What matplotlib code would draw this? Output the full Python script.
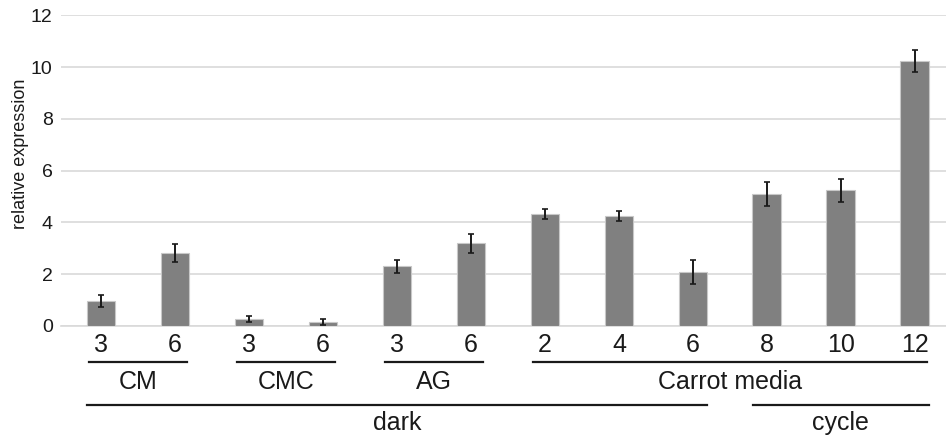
import numpy as np
import matplotlib.pyplot as plt
from matplotlib.transforms import blended_transform_factory

plt.rcParams['font.family'] = ['Liberation Sans', 'DejaVu Sans']

# bar labels (time points) and values
tick_labels = ['3', '6', '3', '6', '3', '6', '2', '4', '6', '8', '10', '12']
values = [0.97, 2.82, 0.27, 0.15, 2.30, 3.20, 4.32, 4.25, 2.10, 5.09, 5.24, 10.24]
errors = [0.23, 0.35, 0.12, 0.12, 0.25, 0.37, 0.20, 0.21, 0.46, 0.47, 0.46, 0.42]

# group brackets: (label, first bar, last bar)
groups_row1 = [('CM', 0, 1), ('CMC', 2, 3), ('AG', 4, 5), ('Carrot media', 6, 11)]
groups_row2 = [('dark', 0, 8), ('cycle', 9, 11)]

W, H = 946, 436
fig = plt.figure(figsize=(W / 100, H / 100), dpi=100)
ax = fig.add_axes([61 / W, 1 - 326 / H, (946 - 61) / W, (326 - 15.5) / H])

x = np.arange(len(values))
ax.bar(x, values, width=0.39, color='#808080', edgecolor='#c8c8c8', linewidth=0.8, zorder=3)
ax.errorbar(x, values, yerr=errors, fmt='none', ecolor='#1a1a1a', elinewidth=1.4,
            capsize=2, capthick=1.2, zorder=4)

ax.set_ylim(0, 12)
ax.set_xlim(-0.54, 11.42)
ax.set_yticks(range(0, 13, 2))
ax.yaxis.grid(True, color='#d9d9d9', linewidth=1.2, zorder=0)
ax.set_axisbelow(True)
for s in ['top', 'right', 'left']:
    ax.spines[s].set_visible(False)
ax.spines['bottom'].set_color('#d9d9d9')
ax.spines['bottom'].set_linewidth(1.2)
ax.tick_params(axis='y', length=0, pad=6, labelsize=14, labelcolor='#1a1a1a')
ax.set_xticks(x)
ax.set_xticklabels(tick_labels)
ax.tick_params(axis='x', length=0, pad=5, labelsize=18, labelcolor='#1a1a1a')
ax.set_ylabel('relative expression', fontsize=13, color='#1a1a1a')
ax.yaxis.set_label_coords((29 - 61) / 885, 0.555)

trans = blended_transform_factory(ax.transData, fig.transFigure)


def bracket(label, i0, i1, line_y, text_y, ext):
    yl = 1 - line_y / H
    yt = 1 - text_y / H
    ax.plot([i0 - ext, i1 + ext], [yl, yl], color='#1a1a1a', linewidth=1.6,
            transform=trans, clip_on=False)
    ax.text((i0 + i1) / 2, yt, label, transform=trans, ha='center', va='center',
            fontsize=18, color='#1a1a1a')


for name, a, b in groups_row1:
    bracket(name, a, b, 362, 382, 0.16)
for name, a, b in groups_row2:
    bracket(name, a, b, 405, 423, 0.19)

fig.savefig('out.png', dpi=100)
